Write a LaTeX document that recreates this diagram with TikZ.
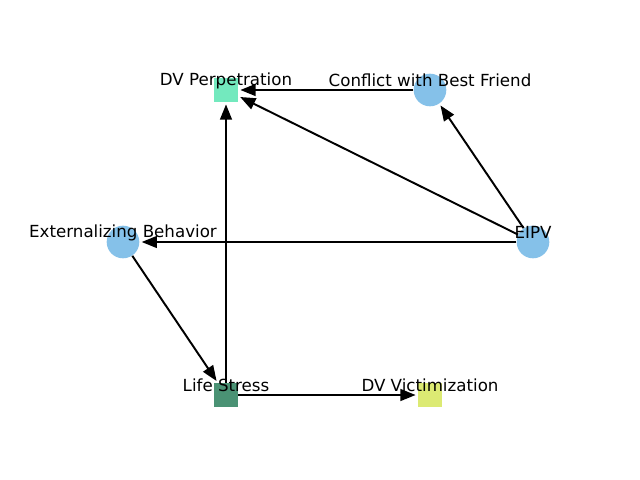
\documentclass[tikz,border=0pt]{standalone}
\usepackage{fontspec}
\setmainfont{DejaVu Sans}
\usetikzlibrary{arrows.meta,backgrounds}
\definecolor{nodeblue}{RGB}{133,193,233}
\definecolor{perpgreen}{RGB}{115,233,190}
\definecolor{stressgreen}{RGB}{74,146,116}
\definecolor{victyellow}{RGB}{220,234,115}
\begin{document}
\begin{tikzpicture}[x=0.72pt,y=-0.72pt,
  link/.style={->,>={Triangle[length=11pt,width=8.5pt]},shorten >=1.5pt,line width=1.4pt},
  round node/.style={circle,fill=nodeblue,minimum size=23.5pt,inner sep=0pt},
  square node/.style={rectangle,minimum size=17.3pt,inner sep=0pt},
  every label/.style={font=\fontsize{12}{14}\selectfont,inner sep=0pt,yshift=6.8pt}]

  \useasboundingbox (0,0) rectangle (640,480);

  \node[square node,fill=perpgreen] (Perp) at (226,90) [label=center:DV Perpetration] {};
  \node[round node] (Conflict) at (430,90) [label=center:Conflict with Best Friend] {};
  \node[round node] (Extern) at (123,242) [label=center:Externalizing Behavior] {};
  \node[round node] (EIPV) at (533,242) [label=center:EIPV] {};
  \node[square node,fill=stressgreen] (Stress) at (226,395) [label=center:Life Stress] {};
  \node[square node,fill=victyellow] (Vict) at (430,395) [label=center:DV Victimization] {};

  \begin{scope}[on background layer]
  \path[every edge/.style={draw,link}]
    (Conflict) edge (Perp)
    (EIPV) edge (Perp)
    (EIPV) edge (Conflict)
    (EIPV) edge (Extern)
    (Extern) edge (Stress)
    (Stress) edge (Perp)
    (Stress) edge (Vict)
    ;
  \end{scope}
\end{tikzpicture}
\end{document}
